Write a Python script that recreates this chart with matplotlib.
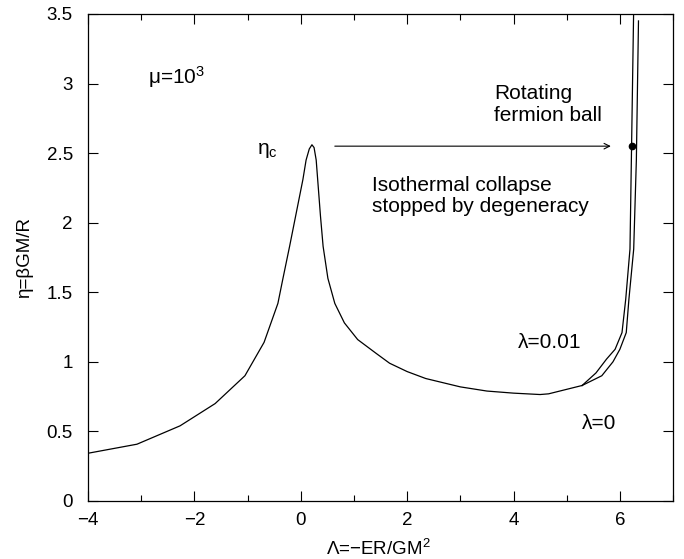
import matplotlib
matplotlib.use("Agg")
import matplotlib.pyplot as plt
from matplotlib.ticker import MultipleLocator, FuncFormatter

plt.rcParams['font.family'] = ['Liberation Sans', 'DejaVu Sans']
plt.rcParams['mathtext.fontset'] = 'custom'
plt.rcParams['mathtext.rm'] = 'Liberation Sans'
plt.rcParams['mathtext.it'] = 'Liberation Sans:italic'
plt.rcParams['mathtext.default'] = 'regular'

# common branch (before the curves split)
lam_common = [-4.0, -3.08, -2.27, -1.61, -1.05, -0.69, -0.43, -0.34, -0.21, 0.04, 0.10,
              0.16, 0.21, 0.25, 0.29, 0.33, 0.37, 0.42, 0.51, 0.64, 0.82, 1.07, 1.42,
              1.67, 2.0, 2.35, 3.0, 3.5, 4.0, 4.5, 4.66, 5.29]
eta_common = [0.343, 0.408, 0.54, 0.70, 0.90, 1.14, 1.42, 1.59, 1.83, 2.31, 2.45,
              2.53, 2.56, 2.54, 2.45, 2.25, 2.05, 1.83, 1.60, 1.42, 1.28, 1.16, 1.06,
              0.99, 0.93, 0.88, 0.82, 0.79, 0.775, 0.765, 0.77, 0.83]

# lambda = 0.01 branch
lam_rot = [5.29, 5.55, 5.75, 5.91, 6.04, 6.11, 6.19, 6.22, 6.26]
eta_rot = [0.83, 0.92, 1.02, 1.09, 1.21, 1.45, 1.81, 2.55, 3.55]

# lambda = 0 branch
lam_norot = [5.29, 5.66, 5.87, 6.0, 6.12, 6.17, 6.26, 6.31, 6.35]
eta_norot = [0.83, 0.90, 1.00, 1.09, 1.21, 1.45, 1.81, 2.45, 3.45]

# marked point (fermion ball)
dot_lam, dot_eta = 6.22, 2.55

fig = plt.figure(figsize=(6.84, 5.59), dpi=100)
ax = fig.add_axes([0.1287, 0.1038, 0.8553, 0.8712])

ax.plot(lam_common, eta_common, color='black', lw=0.9)
ax.plot(lam_rot, eta_rot, color='black', lw=0.9)
ax.plot(lam_norot, eta_norot, color='black', lw=0.9)
ax.plot([dot_lam], [dot_eta], 'o', color='black', ms=4.5)

ax.annotate('', xy=(5.83, 2.55), xytext=(0.64, 2.55),
            arrowprops=dict(arrowstyle='->', lw=0.8, color='black',
                            shrinkA=0, shrinkB=0))

fs = 15
ax.text(-2.87, 3.05, r'μ=10$^3$', fontsize=fs, va='center', ha='left')
ax.text(-0.82, 2.52, r'$\eta_c$', fontsize=fs, va='center', ha='left')
ax.text(3.63, 2.85, 'Rotating\nfermion ball', fontsize=fs, ha='left',
        va='center', linespacing=1.15)
ax.text(1.33, 2.19, 'Isothermal collapse\nstopped by degeneracy', fontsize=fs,
        ha='left', va='center', linespacing=1.15)
ax.text(4.08, 1.14, 'λ=0.01', fontsize=fs, ha='left', va='center')
ax.text(5.28, 0.56, 'λ=0', fontsize=fs, ha='left', va='center')

ax.set_xlim(-4, 7)
ax.set_ylim(0, 3.5)
ax.xaxis.set_major_locator(MultipleLocator(2))
ax.xaxis.set_minor_locator(MultipleLocator(1))
ax.yaxis.set_major_locator(MultipleLocator(0.5))
ax.tick_params(which='both', direction='in', top=True, right=True, labelsize=13.5,
               width=0.8)
ax.tick_params(axis='x', which='major', pad=8)
ax.tick_params(axis='y', which='major', pad=11)
ax.tick_params(which='major', length=7)
ax.tick_params(which='minor', length=4)
ax.xaxis.set_major_formatter(FuncFormatter(lambda v, p: f'{v:g}'.replace('-', '\u2212')))
ax.yaxis.set_major_formatter(FuncFormatter(lambda v, p: f'{v:g}'))
for s in ax.spines.values():
    s.set_linewidth(0.9)

ax.set_xlabel(r'Λ=−ER/GM$^2$', fontsize=13.5, va='center')
ax.xaxis.set_label_coords(0.496, -0.0986)
ax.set_ylabel('η=βGM/R', fontsize=13.5, va='center')
ax.yaxis.set_label_coords(-0.109, 0.5)

fig.savefig('out.png', dpi=100)
